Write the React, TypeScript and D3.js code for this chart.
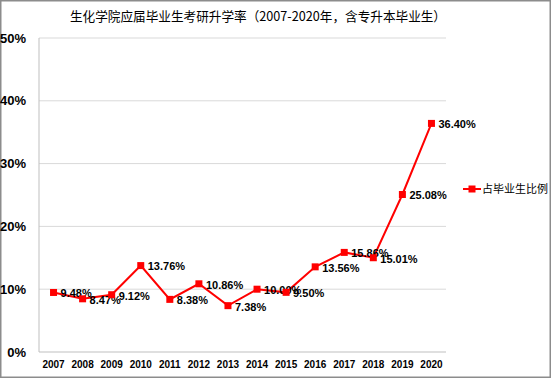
import React from "react";
import * as d3 from "d3";

const years = ["2007","2008","2009","2010","2011","2012","2013","2014","2015","2016","2017","2018","2019","2020"];
const values = [9.48, 8.47, 9.12, 13.76, 8.38, 10.86, 7.38, 10.0, 9.5, 13.56, 15.86, 15.01, 25.08, 36.4];
const yTicks = [0, 10, 20, 30, 40, 50];
const title = "生化学院应届毕业生考研升学率（2007-2020年，含专升本毕业生）";
const seriesName = "占毕业生比例";

export default function App() {
  const W = 551, H = 378;
  const left = 39, right = 446, top = 38, bottom = 352;
  const x = d3.scaleBand().domain(years).range([left, right]);
  const y = d3.scaleLinear().domain([0, 50]).range([bottom, top]);
  const cx = (d: string) => (x(d) as number) + x.bandwidth() / 2;
  const line = d3.line<number>().x((_, i) => cx(years[i])).y((v) => y(v));
  const red = "#FF0000";
  return (
    <svg width={W} height={H} style={{ position: "absolute", left: 0, top: 0 }}>
      <rect x={0} y={0} width={W} height={H} fill="white" />
      <rect x={0.75} y={0.75} width={W - 1.5} height={H - 1.5} fill="none" stroke="#8c8c8c" strokeWidth={1.5} />
      <text x={258} y={21} textAnchor="middle" textLength={376} lengthAdjust="spacingAndGlyphs" fontFamily="'Noto Sans CJK SC'" fontSize={13} fill="#000">{title}</text>
      {yTicks.map((t) => (
        <g key={t}>
          <line x1={left} x2={right} y1={y(t)} y2={y(t)} stroke={t === 0 ? "#bfbfbf" : "#d9d9d9"} strokeWidth={1} />
          <text x={26} y={y(t)} dy="0.35em" textAnchor="end" fontFamily="'Liberation Sans', Arial" fontWeight="bold" fontSize={13} fill="#000">{t}%</text>
        </g>
      ))}
      <line x1={left} x2={left} y1={top} y2={bottom} stroke="#bfbfbf" strokeWidth={1} />
      {years.map((yr) => (
        <text key={yr} x={cx(yr)} y={368} textAnchor="middle" fontFamily="'Liberation Sans', Arial" fontWeight="bold" fontSize={10} fill="#000">{yr}</text>
      ))}
      <path d={line(values) || ""} fill="none" stroke={red} strokeWidth={2} />
      {values.map((v, i) => (
        <g key={i}>
          <rect x={cx(years[i]) - 3.5} y={y(v) - 3.5} width={7} height={7} fill={red} />
          <text x={cx(years[i]) + 7} y={y(v) + 1} dy="0.35em" fontFamily="'Liberation Sans', Arial" fontWeight="bold" fontSize={11} fill="#000">{v.toFixed(2)}%</text>
        </g>
      ))}
      <line x1={463} x2={481} y1={189} y2={189} stroke={red} strokeWidth={2} />
      <rect x={468.5} y={185.5} width={7} height={7} fill={red} />
      <text x={482} y={189} dy="0.35em" fontFamily="'Noto Sans CJK SC'" fontSize={11} fill="#000">{seriesName}</text>
    </svg>
  );
}
